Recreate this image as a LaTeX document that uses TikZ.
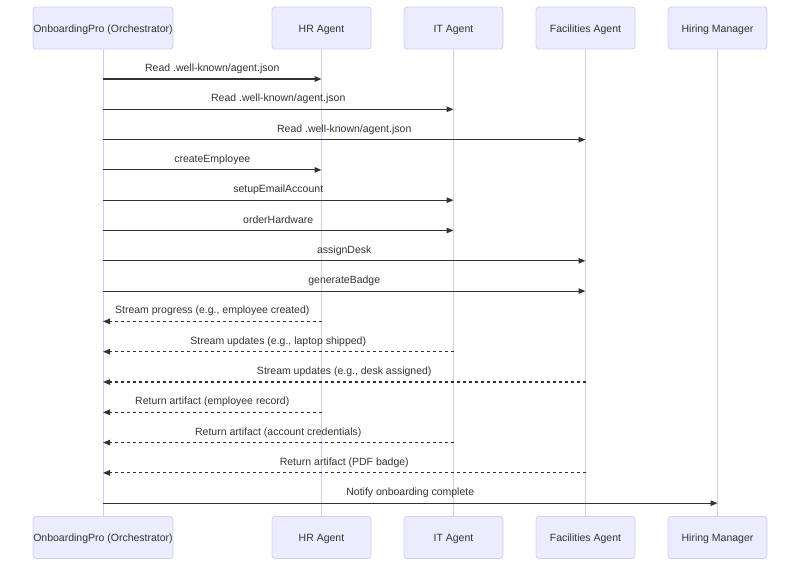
\documentclass[tikz,border=0pt]{standalone}
\usepackage{fontspec}
\setmainfont{Liberation Sans}
\usetikzlibrary{arrows.meta}
\definecolor{actfill}{HTML}{ECECFF}
\definecolor{actline}{HTML}{D6CBF2}
\definecolor{ink}{HTML}{333333}
\tikzset{
  actor/.style={draw=actline, fill=actfill, rounded corners=3pt, minimum height=42pt, inner sep=0pt, text height=8pt, text depth=0pt, font=\fontsize{10.5}{12}\selectfont, text=ink, line width=0.8pt},
  lifeline/.style={draw=actline, line width=1pt},
  msg/.style={draw=ink, line width=1.1pt, -{Triangle[length=7pt,width=5.5pt]}},
  reply/.style={msg, dash pattern=on 3pt off 3pt},
  mlabel/.style={font=\fontsize{10.5}{12}\selectfont, text=ink, anchor=base, inner sep=0pt}
}
\begin{document}
\begin{tikzpicture}[x=1pt,y=-1pt]
\useasboundingbox (0,0) rectangle (800,566);
% top actors
\node[actor, minimum width=140pt] (oT) at (103,28) {OnboardingPro (Orchestrator)};
\node[actor, minimum width=99pt] (hT) at (321.5,28) {HR Agent};
\node[actor, minimum width=99pt] (iT) at (453.5,28) {IT Agent};
\node[actor, minimum width=99pt] (fT) at (585.5,28) {Facilities Agent};
\node[actor, minimum width=99pt] (mT) at (717.5,28) {Hiring Manager};
% bottom actors
\node[actor, minimum width=140pt] (oB) at (103,537.5) {OnboardingPro (Orchestrator)};
\node[actor, minimum width=99pt] (hB) at (321.5,537.5) {HR Agent};
\node[actor, minimum width=99pt] (iB) at (453.5,537.5) {IT Agent};
\node[actor, minimum width=99pt] (fB) at (585.5,537.5) {Facilities Agent};
\node[actor, minimum width=99pt] (mB) at (717.5,537.5) {Hiring Manager};
% lifelines
\foreach \a in {o,h,i,f,m}{
  \draw[lifeline] (\a T.south) -- (\a B.north);
}
% messages
\foreach \f/\t/\k/\l/\s in {
  o/h/0/{Read .well-known/agent.json}/msg,
  o/i/1/{Read .well-known/agent.json}/msg,
  o/f/2/{Read .well-known/agent.json}/msg,
  o/h/3/{createEmployee}/msg,
  o/i/4/{setupEmailAccount}/msg,
  o/i/5/{orderHardware}/msg,
  o/f/6/{assignDesk}/msg,
  o/f/7/{generateBadge}/msg,
  h/o/8/{Stream progress (e.g., employee created)}/reply,
  i/o/9/{Stream updates (e.g., laptop shipped)}/reply,
  f/o/10/{Stream updates (e.g., desk assigned)}/reply,
  h/o/11/{Return artifact (employee record)}/reply,
  i/o/12/{Return artifact (account credentials)}/reply,
  f/o/13/{Return artifact (PDF badge)}/reply,
  o/m/14/{Notify onboarding complete}/msg}{
  \coordinate (y\k) at (0,{79+30.3*\k});
  \draw[\s] (\f T |- y\k) -- (\t T |- y\k)
     node[mlabel, pos=0.5, yshift=7.5pt] {\l};
}
\end{tikzpicture}
\end{document}
